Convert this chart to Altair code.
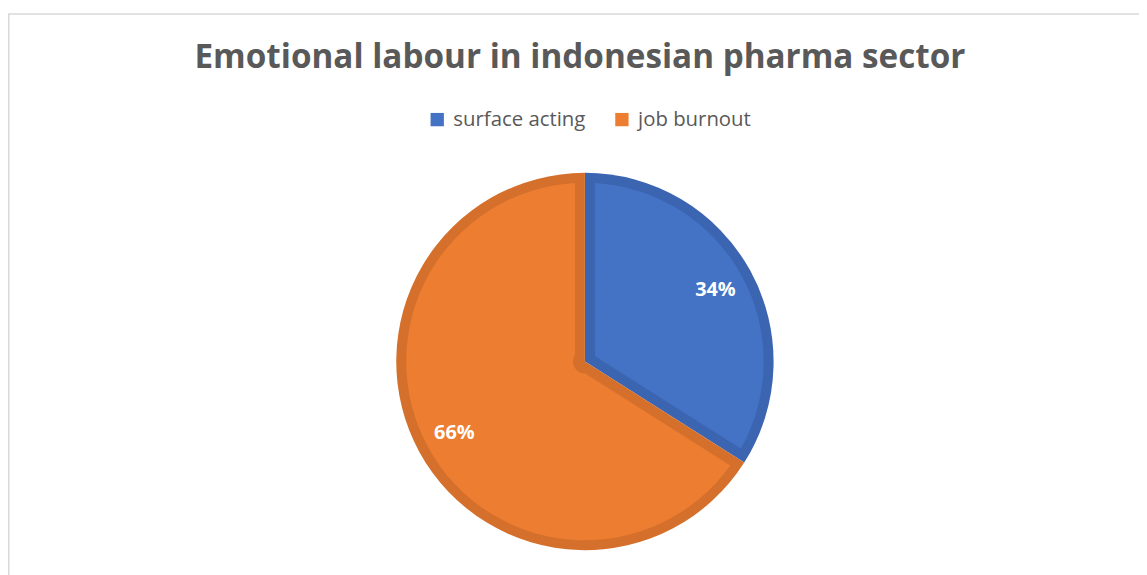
import altair as alt
import pandas as pd

categories = ["surface acting", "job burnout"]
values = [34, 66]
labels = ["34%", "66%"]
light_colors = ["#4472C4", "#ED7D31"]
dark_colors = ["#3B64B1", "#D4702B"]
title_text = "Emotional labour in indonesian pharma sector"

df = pd.DataFrame({
    "category": categories,
    "value": values,
    "label": labels,
    "dark": dark_colors,
    "idx": list(range(len(categories))),
})

CX, CY = 581, 354

theta = alt.Theta("value:Q", stack=True)
order = alt.Order("idx:Q")

base = alt.Chart(df)

frame = alt.Chart(pd.DataFrame({"a": [0]})).mark_rect(
    fill="white", stroke="#d9d9d9", strokeWidth=1.5
).encode(x=alt.value(0.75), y=alt.value(4), x2=alt.value(1400), y2=alt.value(900))

dark = base.mark_arc(outerRadius=190).encode(
    theta=theta,
    order=order,
    color=alt.Color("category:N", scale=alt.Scale(domain=categories, range=dark_colors), legend=None),
    x=alt.value(CX), y=alt.value(CY),
)

light = base.mark_arc(outerRadius=180, innerRadius=12, padAngle=0.111).encode(
    theta=theta,
    order=order,
    color=alt.Color(
        "category:N",
        scale=alt.Scale(domain=categories, range=light_colors),
        legend=alt.Legend(
            title=None, orient="none", direction="horizontal",
            legendX=422, legendY=100,
            symbolType="square", symbolSize=180, symbolStrokeWidth=0,
            labelFont="Open Sans", labelFontSize=20.5, labelColor="#595959",
            labelOffset=6, columnPadding=26,
        ),
    ),
    x=alt.value(CX), y=alt.value(CY),
)

text = base.mark_text(
    radius=150, font="Open Sans", fontSize=20, fontWeight="bold", color="white"
).encode(
    theta=theta, order=order, text="label:N",
    x=alt.value(CX), y=alt.value(CY),
)

title = alt.Chart(pd.DataFrame({"t": [title_text]})).mark_text(
    font="Open Sans", fontSize=33.5, fontWeight="bold", color="#595959",
    align="center", baseline="alphabetic",
).encode(text="t:N", x=alt.value(576), y=alt.value(58))

chart = alt.layer(frame, dark, light, text, title).resolve_scale(
    color="independent"
).properties(
    width=1139, height=567, autosize=alt.AutoSizeParams(type="none"), padding=0
).configure_view(stroke=None)

chart.save("out.html", embed_options={"renderer": "svg", "actions": False})
